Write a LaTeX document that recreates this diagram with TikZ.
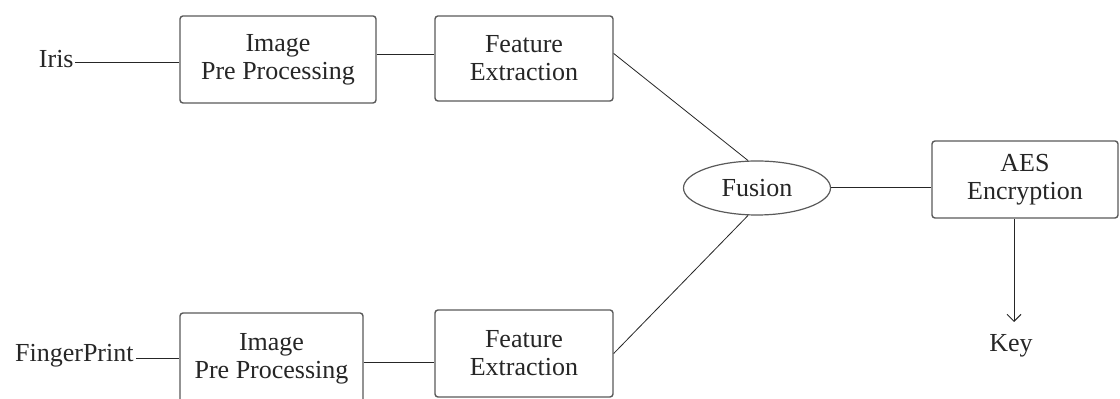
\documentclass[tikz,border=0pt]{standalone}
\usepackage{fontspec}
\setmainfont{Liberation Serif}
\usetikzlibrary{arrows.meta,shapes.geometric}
\definecolor{txt}{HTML}{262626}
\definecolor{edge}{HTML}{5A5A5A}
\tikzset{
  box/.style={draw=edge, line width=0.7pt, rounded corners=1.5pt, align=center,
    font=\fontsize{13}{14}\selectfont, text=txt, inner sep=0pt},
  lbl/.style={font=\fontsize{13}{14}\selectfont, text=txt, inner sep=0pt},
  wire/.style={draw=black!85, line width=0.5pt},
  thin/.style={draw=black!85, line width=0.4pt},
}
\begin{document}
\begin{tikzpicture}[x=0.5pt,y=-0.5pt]
\fill[white] (0,0) rectangle (1120,399);
\clip (0,0) rectangle (1120,399);
% nodes
\node[lbl, anchor=base east] (iris) at (74,68) {Iris};
\node[lbl, anchor=base east] (fp) at (134,362) {FingerPrint};
\node[box, minimum width=98pt, minimum height=43.5pt] (pre1) at (278,59.5) {Image\\Pre Processing};
\node[box, minimum width=89pt, minimum height=42.5pt] (fe1) at (524,58.5) {Feature\\Extraction};
\node[box, minimum width=91.5pt, minimum height=46pt] (pre2) at (271.5,359) {Image\\Pre Processing};
\node[box, minimum width=89pt, minimum height=43.5pt] (fe2) at (524,353.5) {Feature\\Extraction};
\node[ellipse, draw=edge, line width=0.6pt, minimum width=73.5pt, minimum height=27pt,
      inner sep=0pt, lbl] (fusion) at (757,188) {Fusion};
\node[box, minimum width=93pt, minimum height=38.5pt] (aes) at (1025,179.5) {AES\\Encryption};
\node[lbl, anchor=base] (key) at (1011,352) {Key};
\coordinate (keytip) at (1014,322);
% connectors
\path (iris.base east) ++(1,-5) coordinate (irisout);
\path (fp.base east) ++(2,-3) coordinate (fpout);
\path (pre1.east) ++(0,-4.5) coordinate (pre1out);
\draw[wire] (irisout) -- (irisout -| pre1.west);
\draw[wire] (pre1out) -- (pre1out -| fe1.west);
\draw[wire] (fpout) -- (fpout -| pre2.west);
\path (pre2.east) ++(0,4) coordinate (pre2out);
\draw[wire] (pre2out) -- (pre2out -| fe2.west);
\path (fe1.east) ++(0,-5) coordinate (fe1out);
\draw[thin] (fe1out) -- (fusion.108);
\draw[thin] (fe2.east) -- (fusion.252);
\draw[wire] (fusion.east) -- (fusion.east -| aes.west);
\draw[wire, -{Straight Barb[length=3.5pt,width=7pt]}] (keytip |- aes.south) -- (keytip);
\end{tikzpicture}
\end{document}
